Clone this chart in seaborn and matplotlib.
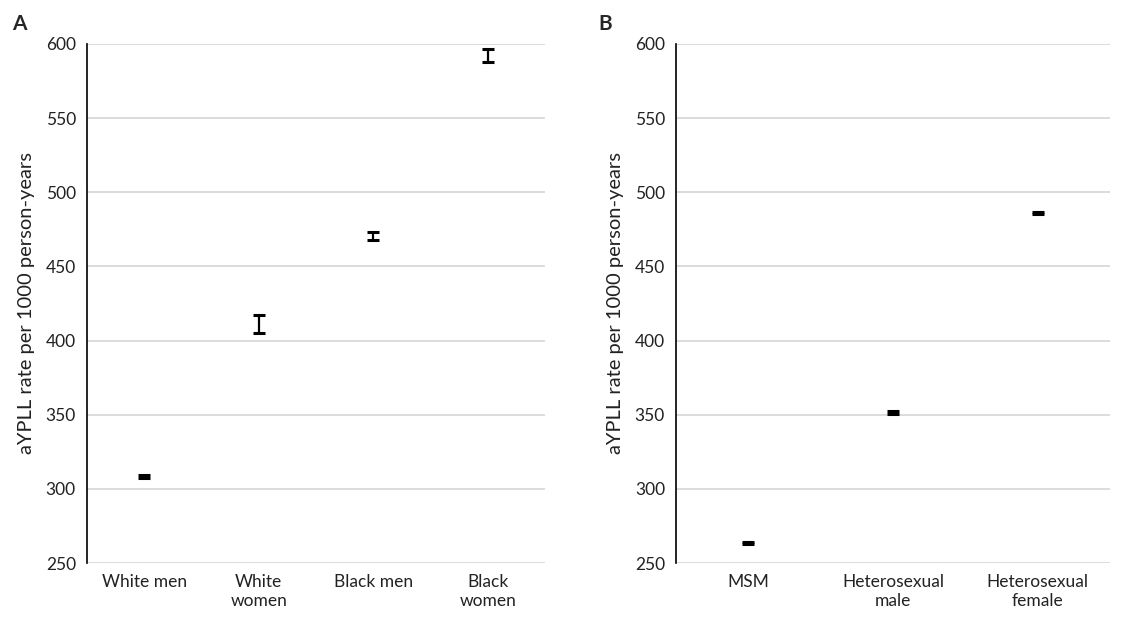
"""aYPLL rates by race/sex and by transmission group, with 95% CIs."""

import matplotlib.pyplot as plt
import pandas as pd
import seaborn as sns

# panel A
race_sex_groups = ["White men", "White\nwomen", "Black men", "Black\nwomen"]
race_sex_rate = [308.5, 411, 470.5, 592]
race_sex_low = [307.5, 405, 468, 588]
race_sex_high = [309.5, 417, 473, 596.5]

# panel B
risk_groups = ["MSM", "Heterosexual\nmale", "Heterosexual\nfemale"]
risk_rate = [263.5, 351.5, 486]
risk_low = [262.8, 350.8, 485.3]
risk_high = [264.2, 352.2, 486.7]

y_ticks = [250, 300, 350, 400, 450, 500, 550, 600]

sns.set_theme(style="white")
plt.rcParams["font.family"] = ["Lato", "DejaVu Sans"]


def draw_panel(ax, groups, rate, low, high):
    df = pd.DataFrame({"group": groups, "rate": rate})
    # point estimate sits inside the CI caps, no visible marker in the source
    sns.pointplot(
        data=df, x="group", y="rate", ax=ax, errorbar=None,
        color="black", marker="_", linestyle="none", markersize=0,
    )
    yerr = [
        [r - lo for r, lo in zip(rate, low)],
        [hi - r for r, hi in zip(rate, high)],
    ]
    ax.errorbar(range(len(groups)), rate, yerr=yerr, fmt="none",
                ecolor="black", elinewidth=1.6, capsize=4, capthick=2.2)

    ax.set_ylim(250, 600)
    ax.set_xlim(-0.5, len(groups) - 0.5)
    ax.set_yticks(y_ticks)
    ax.yaxis.grid(True, color="#d9d9d9", linewidth=1.3)
    ax.set_axisbelow(True)
    for side in ["top", "right", "bottom"]:
        ax.spines[side].set_visible(False)
    ax.spines["left"].set_color("black")
    ax.spines["left"].set_linewidth(1.2)
    ax.tick_params(axis="both", length=0, labelsize=12.5, colors="#222222",
                   pad=8)
    ax.set_xlabel("")
    ax.set_ylabel("aYPLL rate per 1000 person-years", fontsize=14.5,
                  color="#222222", labelpad=8)


fig = plt.figure(figsize=(11.26, 6.25), dpi=100)
ax_a = fig.add_axes([0.0773, 0.0992, 0.4067, 0.8304])
ax_b = fig.add_axes([0.6004, 0.0992, 0.3854, 0.8304])

draw_panel(ax_a, race_sex_groups, race_sex_rate, race_sex_low, race_sex_high)
draw_panel(ax_b, risk_groups, risk_rate, risk_low, risk_high)

fig.text(0.011, 0.962, "A", fontsize=15, fontweight="bold", va="center")
fig.text(0.531, 0.962, "B", fontsize=15, fontweight="bold", va="center")

fig.savefig("out.png", dpi=100, facecolor="white")
